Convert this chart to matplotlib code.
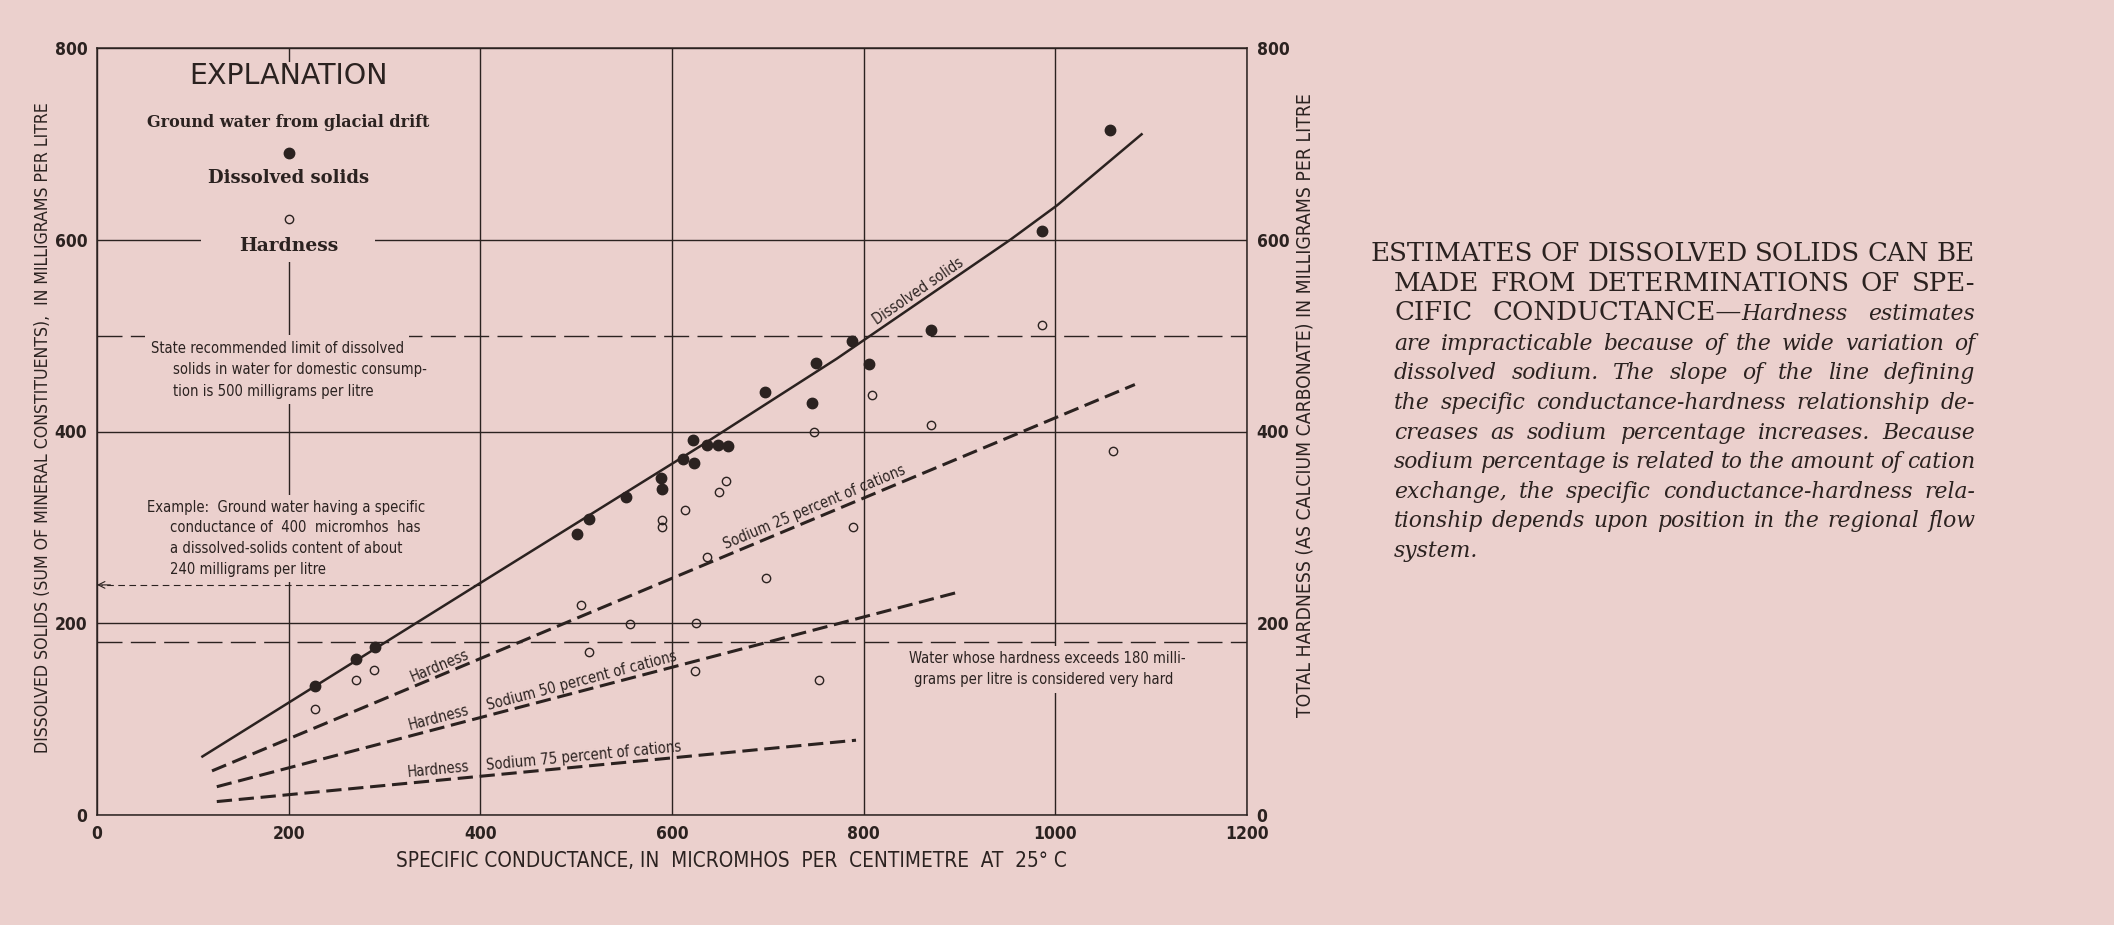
import numpy as np
import matplotlib
matplotlib.use("Agg")
import matplotlib.pyplot as plt
from matplotlib import font_manager
from matplotlib.font_manager import FontProperties
from matplotlib.patches import Rectangle

# ---- data ----
# dissolved solids (filled dots)
ds_cond = [227, 270, 290, 501, 513, 552, 589, 590, 611, 622, 623, 636, 648, 658,
           697, 746, 750, 788, 806, 870, 986, 1057]
ds_mgl = [135, 163, 175, 293, 309, 332, 351, 340, 371, 391, 367, 386, 386, 385,
          441, 430, 471, 494, 470, 506, 609, 714]
# hardness (open dots)
hd_cond = [227, 270, 289, 505, 513, 556, 590, 590, 614, 625, 624, 636, 649, 656,
           698, 748, 789, 753, 809, 870, 986, 1060]
hd_mgl = [111, 141, 151, 219, 170, 199, 308, 300, 318, 200, 150, 269, 337, 348,
          247, 399, 300, 141, 438, 407, 511, 380]

# fitted relations
ds_line_x = [110, 400, 630, 772, 953, 1002, 1090]
ds_line_y = [61, 242, 385, 476, 600, 636, 710]
na25_x, na25_y = [120, 1083], [46, 449]
na50_x, na50_y = [125, 897], [29.5, 232]
na75_x, na75_y = [125, 792], [14, 78]

limit_ds = 500
limit_hard = 180
example_cond, example_ds = 400, 240

xticks = [0, 200, 400, 600, 800, 1000, 1200]
yticks = [0, 200, 400, 600, 800]

para = [
    ("ESTIMATES OF DISSOLVED SOLIDS CAN BE", ""),
    ("MADE FROM DETERMINATIONS OF SPE-", ""),
    ("CIFIC CONDUCTANCE\u2014", "Hardness estimates"),
    ("", "are impracticable because of the wide variation of"),
    ("", "dissolved sodium.  The slope of the line defining"),
    ("", "the specific conductance-hardness relationship de-"),
    ("", "creases as sodium percentage increases.  Because"),
    ("", "sodium percentage is related to the amount of cation"),
    ("", "exchange, the specific conductance-hardness rela-"),
    ("", "tionship depends upon position in the regional flow"),
    ("", "system."),
]

# ---- style ----
BG = "#ebd0cd"
INK = "#2b2220"
W, H = 2114, 925
SERIF = "DejaVu Serif"

narrow = [f for f in font_manager.fontManager.ttflist
          if any(k in f.name or k in f.fname for k in ("Narrow", "Condensed"))
          and f.style == "normal"]
narrow_reg = [f for f in narrow if f.weight in (400, "normal", "regular")]
narrow_bold = [f for f in narrow if f.weight in (700, "bold")]


def sans(size, bold=False):
    pool = narrow_bold if bold and narrow_bold else narrow_reg
    if pool:
        return FontProperties(fname=pool[0].fname, size=size)
    return FontProperties(family="DejaVu Sans", size=size,
                          weight="bold" if bold else "normal")


fig = plt.figure(figsize=(W / 100, H / 100), dpi=100, facecolor=BG)
renderer = fig.canvas.get_renderer()


def text_w(s, fp):
    t = fig.text(0, 0, s, fontproperties=fp)
    w = t.get_window_extent(renderer).width
    t.remove()
    return w


# size the condensed annotation type from a line of known width (253 px)
note_size = 11 * 253 / text_w("State recommended limit of dissolved", sans(11))

ax = fig.add_axes([97 / W, 110 / H, 1150 / W, 767 / H])
ax.set_facecolor(BG)
ax.set_xlim(0, 1200)
ax.set_ylim(0, 800)
ax.set_xticks(xticks)
ax.set_yticks(yticks)
ax.grid(True, color=INK, lw=1.0)
ax.set_axisbelow(True)
for s in ax.spines.values():
    s.set_color(INK)
    s.set_linewidth(1.1)
tick_fp = sans(12.5, bold=True)
ax.tick_params(length=0, pad=7, labelcolor=INK)
for lab in ax.get_xticklabels() + ax.get_yticklabels():
    lab.set_fontproperties(tick_fp)

ax2 = ax.twinx()
ax2.set_ylim(0, 800)
ax2.set_yticks(yticks)
ax2.tick_params(length=0, pad=7, labelcolor=INK)
for lab in ax2.get_yticklabels():
    lab.set_fontproperties(tick_fp)
for s in ax2.spines.values():
    s.set_visible(False)

# reference lines
ax.axhline(limit_ds, color=INK, lw=1.0, ls=(0, (18, 6)), zorder=1.6)
ax.axhline(limit_hard, color=INK, lw=1.0, ls=(0, (18, 6)), zorder=1.6)
ax.plot([example_cond, 4], [example_ds, example_ds], color=INK, lw=0.8,
        ls=(0, (6, 4)), zorder=2)
ax.annotate("", xy=(0, example_ds), xytext=(14, example_ds),
            arrowprops=dict(arrowstyle="->", color=INK, lw=0.8,
                            mutation_scale=12, shrinkA=0, shrinkB=0))

# curves
ax.plot(ds_line_x, ds_line_y, color=INK, lw=1.8, zorder=3)
dash = (0, (5, 2.2))
for xs, ys in [(na25_x, na25_y), (na50_x, na50_y), (na75_x, na75_y)]:
    ax.plot(xs, ys, color=INK, lw=2.2, ls=dash, zorder=3)

# points
ax.plot(ds_cond, ds_mgl, "o", ms=7.5, color=INK, mec=INK, zorder=4)
ax.plot(hd_cond, hd_mgl, "o", ms=6, mfc="none", mec=INK, mew=1.0, zorder=4)

# explanation block
ax.add_patch(Rectangle((109, 577), 181, 208, fc=BG, ec="none", zorder=1.5))
ax.text(200, 771, "EXPLANATION", ha="center", va="center", fontsize=20.5,
        family="DejaVu Sans", color=INK, zorder=5)
ax.text(200, 722, "Ground water from glacial drift", ha="center", va="center",
        fontsize=11.5, family=SERIF, weight="bold", color=INK, zorder=5)
ax.plot(200, 690.5, "o", ms=7.5, color=INK, zorder=5)
ax.text(200, 664, "Dissolved solids", ha="center", va="center", fontsize=13,
        family=SERIF, weight="bold", color=INK, zorder=5)
ax.plot(200, 622, "o", ms=6, mfc="none", mec=INK, mew=1.0, zorder=5)
ax.text(200, 593, "Hardness", ha="center", va="center", fontsize=13.5,
        family=SERIF, weight="bold", color=INK, zorder=5)

note_fp = sans(note_size)
box = dict(fc=BG, ec="none", pad=4)
notes = [
    (56, 79, [487, 465, 442], ["State recommended limit of dissolved",
                               "solids in water for domestic consump-",
                               "tion is 500 milligrams per litre"]),
    (52.5, 76, [320.6, 299.6, 278, 256.5], ["Example:  Ground water having a specific",
                                             "conductance of  400  micromhos  has",
                                             "a dissolved-solids content of about",
                                             "240 milligrams per litre"]),
    (847, 853, [163, 141], ["Water whose hardness exceeds 180 milli-",
                            "grams per litre is considered very hard"]),
]
for x_first, x_rest, ys, txt in notes:
    for k, (yy, line) in enumerate(zip(ys, txt)):
        ax.text(x_first if k == 0 else x_rest, yy, line, fontproperties=note_fp,
                color=INK, ha="left", va="center", bbox=box, zorder=5)


def angle(xs, ys):
    p = ax.transData.transform([(xs[0], ys[0]), (xs[-1], ys[-1])])
    return np.degrees(np.arctan2(p[1, 1] - p[0, 1], p[1, 0] - p[0, 0]))


def line_label(s, x, xs, ys, ha, off=6, seg=None):
    a = angle(xs if seg is None else xs[seg], ys if seg is None else ys[seg])
    ax.text(x, np.interp(x, xs, ys) + off, s, fontproperties=note_fp, color=INK,
            ha=ha, va="baseline", rotation=a, rotation_mode="anchor", zorder=5)


line_label("Dissolved solids", 814, ds_line_x, ds_line_y, "left", seg=slice(3, 5))
line_label("Hardness", 389, na25_x, na25_y, "right", off=5)
line_label("Sodium 25 percent of cations", 656, na25_x, na25_y, "left", off=7)
line_label("Hardness", 389, na50_x, na50_y, "right")
line_label("Sodium 50 percent of cations", 408, na50_x, na50_y, "left")
line_label("Hardness", 389, na75_x, na75_y, "right")
line_label("Sodium 75 percent of cations", 407, na75_x, na75_y, "left")

# axis titles
fig.text(731 / W, 1 - 861 / H,
         "SPECIFIC CONDUCTANCE, IN  MICROMHOS  PER  CENTIMETRE  AT  25\u00b0 C",
         ha="center", va="center", fontproperties=sans(14.9), color=INK)
fig.text(43 / W, 1 - 428 / H,
         "DISSOLVED SOLIDS (SUM OF MINERAL CONSTITUENTS),  IN MILLIGRAMS PER LITRE",
         ha="center", va="center", rotation=90, fontproperties=sans(12.7), color=INK)
fig.text(1305 / W, 1 - 405 / H,
         "TOTAL HARDNESS (AS CALCIUM CARBONATE) IN MILLIGRAMS PER LITRE",
         ha="center", va="center", rotation=90, fontproperties=sans(13.9), color=INK)

# ---- justified caption paragraph ----


def width(s, style, size):
    return text_w(s, FontProperties(family=SERIF, style=style, size=size))


def words_of(up, it):
    words = [[(w, "normal")] for w in up.split()]
    itw = it.split()
    if words and itw and not up.endswith(" "):
        words[-1].append((itw.pop(0), "italic"))
    words += [[(w, "italic")] for w in itw]
    return words


left0, left1, right = 1371, 1394, 1975
base0, step = 261, 29.6
lines = [words_of(u, i) for u, i in para]


def natural(wl, sizes, squeeze=0.75):
    sp = width("a a", "normal", sizes["normal"]) - width("aa", "normal", sizes["normal"])
    return sum(width(r, st, sizes[st]) for w in wl for r, st in w) + squeeze * sp * (len(wl) - 1)


def fit(style, start):
    s = start
    while s > 10:
        sizes = {"normal": s, "italic": s}
        ok = all(natural(wl, sizes) <= right - (left0 if k == 0 else left1)
                 for k, wl in enumerate(lines)
                 if all(st == style for w in wl for _, st in w))
        if ok:
            return s
        s -= 0.25
    return s


sizes = {"normal": fit("normal", 19), "italic": fit("italic", 19)}
sp_it = width("a a", "italic", sizes["italic"]) - width("aa", "italic", sizes["italic"])

for k, wl in enumerate(lines):
    x0 = left0 if k == 0 else left1
    ws = [sum(width(r, st, sizes[st]) for r, st in w) for w in wl]
    last = k == len(lines) - 1
    gap = sp_it if last else (right - x0 - sum(ws)) / (len(wl) - 1)
    x = x0
    y = base0 + step * k
    for w, ww in zip(wl, ws):
        xx = x
        for r, st in w:
            fig.text(xx / W, 1 - y / H, r, fontsize=sizes[st], family=SERIF, style=st,
                     color=INK, va="baseline", ha="left")
            xx += width(r, st, sizes[st])
        x += ww + gap

fig.savefig("out.png", dpi=100, facecolor=BG)
